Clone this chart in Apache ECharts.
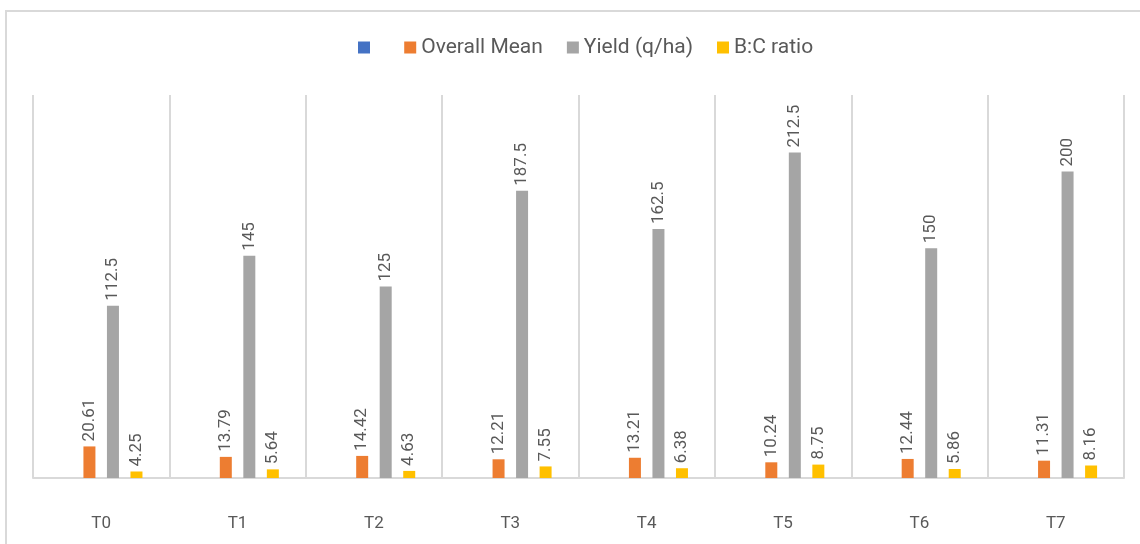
<!DOCTYPE html>
<html>
<head>
<meta charset="utf-8">
<script src="https://cdn.jsdelivr.net/npm/echarts@6/dist/echarts.min.js"></script>
<style>
  html, body { margin: 0; padding: 0; background: #fff; }
  #main { width: 1140px; height: 544px; }
</style>
</head>
<body>
<div id="main"></div>
<script>
// data
var categories = ['T0', 'T1', 'T2', 'T3', 'T4', 'T5', 'T6', 'T7'];
var blankSeries = [];
var overallMean = [20.61, 13.79, 14.42, 12.21, 13.21, 10.24, 12.44, 11.31];
var yieldQha = [112.5, 145, 125, 187.5, 162.5, 212.5, 150, 200];
var bcRatio = [4.25, 5.64, 4.63, 7.55, 6.38, 8.75, 5.86, 8.16];

var chart = echarts.init(document.getElementById('main'));

var labelStyle = {
  show: true,
  position: 'top',
  rotate: 90,
  align: 'left',
  verticalAlign: 'middle',
  distance: 5,
  color: '#595959',
  fontSize: 17,
  fontFamily: 'Roboto'
};

function barSeries(name, data, color) {
  return {
    name: name,
    type: 'bar',
    data: data,
    barWidth: 12,
    barGap: '96%',
    itemStyle: { color: color },
    label: labelStyle
  };
}

var option = {
  backgroundColor: '#ffffff',
  animation: false,
  graphic: [{
    type: 'rect',
    shape: { x: 6, y: 11, width: 1200, height: 600 },
    style: { fill: 'none', stroke: '#d9d9d9', lineWidth: 2 },
    silent: true
  }],
  legend: {
    top: 32,
    left: 353,
    itemWidth: 12,
    itemHeight: 12,
    itemGap: 24,
    itemTextGap: 6,
    icon: 'rect',
    textStyle: { color: '#595959', fontSize: 21, fontFamily: 'Roboto' },
    data: ['\u00a0', 'Overall Mean', 'Yield (q/ha)', 'B:C ratio']
  },
  grid: { left: 33, right: 16, top: 95, bottom: 66 },
  xAxis: {
    type: 'category',
    data: categories,
    axisLine: { lineStyle: { color: '#d9d9d9', width: 2 } },
    axisTick: { show: false },
    splitLine: { show: true, lineStyle: { color: '#d9d9d9', width: 2 } },
    axisLabel: { color: '#595959', fontSize: 17, fontFamily: 'Roboto', margin: 37 }
  },
  yAxis: {
    type: 'value',
    min: 0,
    max: 250,
    show: false
  },
  series: [
    barSeries('\u00a0', blankSeries, '#4472c4'),
    barSeries('Overall Mean', overallMean, '#ed7d31'),
    barSeries('Yield (q/ha)', yieldQha, '#a5a5a5'),
    barSeries('B:C ratio', bcRatio, '#ffc000')
  ]
};

chart.setOption(option);
</script>
</body>
</html>
